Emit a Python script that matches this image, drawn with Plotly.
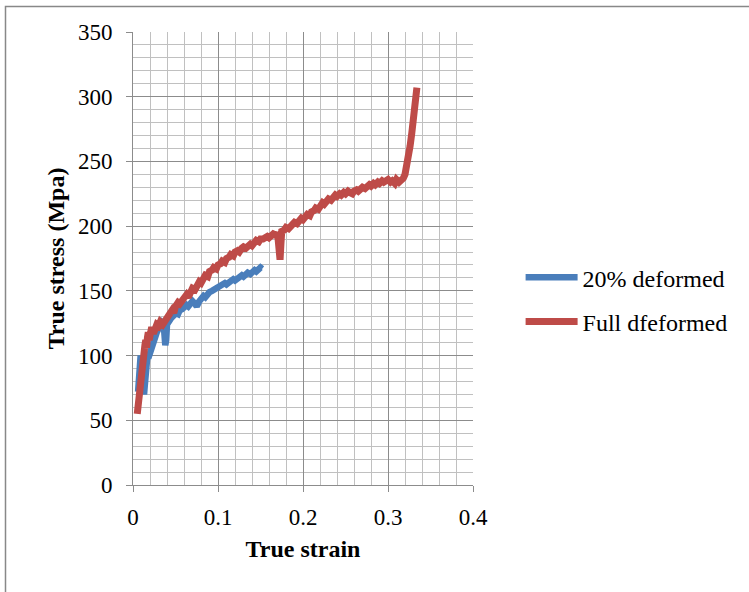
import plotly.graph_objects as go

# 20% deformed
strain_20 = [0.006, 0.007, 0.008, 0.009, 0.010, 0.011, 0.012, 0.013, 0.014, 0.015,
             0.016, 0.017, 0.018, 0.020, 0.022, 0.024, 0.026, 0.028, 0.030, 0.032,
             0.034, 0.036, 0.037, 0.038, 0.039, 0.040, 0.042, 0.045, 0.048, 0.050,
             0.053, 0.055, 0.058, 0.060, 0.063, 0.065, 0.068, 0.070, 0.073, 0.075,
             0.078, 0.080, 0.083, 0.085, 0.088, 0.090, 0.093, 0.095, 0.098, 0.100,
             0.103, 0.105, 0.108, 0.110, 0.113, 0.115, 0.118, 0.120, 0.123, 0.125,
             0.128, 0.130, 0.133, 0.135, 0.138, 0.140, 0.143, 0.145, 0.148, 0.150, 0.152]
stress_20 = [72, 85, 98, 100, 92, 80, 72, 70, 78, 88,
             95, 100, 98, 103, 106, 110, 114, 118, 121, 124,
             126, 125, 115, 108, 112, 124, 127, 129, 131, 133,
             132, 135, 136, 137, 139, 138, 141, 142, 140, 138,
             142, 144, 146, 145, 148, 149, 150, 151, 152, 153,
             154, 155, 156, 155, 157, 158, 159, 158, 160, 161,
             162, 161, 163, 164, 163, 165, 166, 165, 167, 168, 167]

# Full dfeformed
strain_full = [0.005, 0.006, 0.007, 0.008, 0.009, 0.010, 0.011, 0.012, 0.013, 0.014,
               0.015, 0.016, 0.017, 0.018, 0.019, 0.020, 0.022, 0.024, 0.026, 0.028,
               0.030, 0.032, 0.035, 0.038, 0.040, 0.043, 0.046, 0.048, 0.050, 0.053,
               0.055, 0.058, 0.060, 0.063, 0.065, 0.068, 0.070, 0.073, 0.075, 0.078,
               0.080, 0.083, 0.085, 0.088, 0.090, 0.093, 0.095, 0.098, 0.100, 0.103,
               0.105, 0.108, 0.110, 0.113, 0.115, 0.118, 0.120, 0.123, 0.125, 0.128,
               0.130, 0.133, 0.135, 0.138, 0.140, 0.143, 0.145, 0.148, 0.150, 0.153,
               0.155, 0.158, 0.160, 0.163, 0.165, 0.168, 0.170, 0.171, 0.172, 0.173,
               0.174, 0.175, 0.178, 0.180, 0.183, 0.185, 0.188, 0.190, 0.193, 0.195,
               0.198, 0.200, 0.203, 0.205, 0.208, 0.210, 0.213, 0.215, 0.218, 0.220,
               0.223, 0.225, 0.228, 0.230, 0.233, 0.235, 0.238, 0.240, 0.243, 0.245,
               0.248, 0.250, 0.253, 0.255, 0.258, 0.260, 0.263, 0.265, 0.268, 0.270,
               0.273, 0.275, 0.278, 0.280, 0.283, 0.285, 0.288, 0.290, 0.293, 0.295,
               0.298, 0.300, 0.303, 0.305, 0.308, 0.310, 0.313, 0.315, 0.318, 0.320,
               0.322, 0.324, 0.326, 0.328, 0.330, 0.331, 0.332, 0.333, 0.334]
stress_full = [55, 62, 70, 78, 86, 92, 98, 104, 100, 108,
               112, 106, 114, 118, 112, 116, 122, 117, 120, 124,
               123, 126, 124, 128, 130, 132, 135, 133, 138, 141,
               140, 142, 145, 147, 145, 150, 152, 151, 155, 157,
               156, 160, 162, 161, 165, 166, 168, 167, 170, 171,
               173, 172, 175, 176, 178, 177, 180, 181, 180, 183,
               184, 183, 185, 186, 185, 188, 189, 188, 190, 190,
               191, 192, 191, 193, 194, 193, 195, 188, 176, 174,
               186, 196, 197, 199, 198, 200, 201, 203, 202, 204,
               206, 205, 207, 209, 208, 211, 212, 214, 213, 216,
               218, 217, 219, 221, 220, 222, 224, 223, 225, 224,
               226, 225, 227, 226, 225, 227, 228, 227, 229, 230,
               229, 231, 232, 231, 233, 232, 234, 233, 235, 234,
               235, 236, 234, 235, 233, 236, 234, 235, 237, 240,
               246, 254, 262, 272, 283, 290, 296, 302, 307]

x_ticks = [0, 0.1, 0.2, 0.3, 0.4]
x_tick_labels = ["0", "0.1", "0.2", "0.3", "0.4"]
y_ticks = [0, 50, 100, 150, 200, 250, 300, 350]

FONT = "Liberation Serif"

fig = go.Figure()
fig.add_trace(go.Scatter(x=strain_20, y=stress_20, mode="lines", name="20% deformed",
                         line=dict(color="#4a7ebb", width=6.5), legendgroup="a"))
fig.add_trace(go.Scatter(x=strain_full, y=stress_full, mode="lines", name="Full dfeformed",
                         line=dict(color="#be4b48", width=7), legendgroup="b"))

axis_common = dict(showgrid=True, gridcolor="#8c8c8c", gridwidth=1,
                   showline=True, linecolor="#8c8c8c", linewidth=1,
                   ticks="outside", ticklen=6, tickcolor="#8c8c8c",
                   tickfont=dict(family=FONT, size=23, color="black"),
                   zeroline=False)

fig.update_xaxes(range=[0, 0.4], tickvals=x_ticks, ticktext=x_tick_labels,
                 minor=dict(dtick=0.02, showgrid=True, gridcolor="#c0c0c0", gridwidth=1),
                 ticklabelstandoff=5,
                 title=dict(text="<b>True strain</b>", font=dict(family=FONT, size=24, color="black"),
                            standoff=11),
                 **axis_common)
fig.update_yaxes(range=[0, 350], tickvals=y_ticks,
                 minor=dict(dtick=10, showgrid=True, gridcolor="#c0c0c0", gridwidth=1),
                 ticklabelstandoff=9,
                 title=dict(text="<b>True stress (Mpa)</b>", font=dict(family=FONT, size=24, color="black"),
                            standoff=6),
                 **axis_common)

# outer chart border
fig.add_shape(type="rect", xref="paper", yref="paper",
              x0=(5.5 - 133) / 340, x1=(760 - 133) / 340,
              y0=(485.3 - 600) / 452.9, y1=(485.3 - 7) / 452.9,
              line=dict(color="#888888", width=1.5), fillcolor="rgba(0,0,0,0)", layer="below")

fig.update_layout(
    width=749, height=592,
    margin=dict(l=133, r=276, t=32, b=107),
    paper_bgcolor="white", plot_bgcolor="white",
    font=dict(family=FONT, size=24, color="black"),
    legend=dict(x=1.14, y=0.409, xanchor="left", yanchor="middle",
                font=dict(family=FONT, size=24, color="black"),
                itemwidth=52, tracegroupgap=10, bgcolor="rgba(0,0,0,0)"),
    showlegend=True,
)

fig.write_html("out.html", config={"displayModeBar": False},
               post_script="document.body.style.margin='0';")
